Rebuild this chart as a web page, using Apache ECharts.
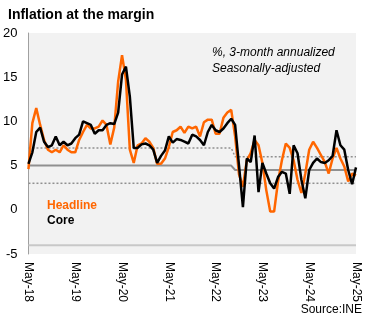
<!DOCTYPE html>
<html><head><meta charset="utf-8">
<script src="https://cdn.jsdelivr.net/npm/echarts@6/dist/echarts.min.js"></script>
<style>html,body{margin:0;padding:0;background:#fff}#c{width:376px;height:322px}</style>
</head><body><div id="c"></div>
<script>
var monthNames = ['Jan','Feb','Mar','Apr','May','Jun','Jul','Aug','Sep','Oct','Nov','Dec'];
var startMonth = 4, startYear = 2018, monthCount = 85;
var categories = [];
for (var k = 0; k < monthCount; k++) {
  var m = (startMonth + k) % 12, y = startYear + Math.floor((startMonth + k) / 12);
  categories.push(monthNames[m] + '-' + String(y).slice(2));
}
var headline = [4.6,9.8,11.5,9.6,7.9,6.8,6.5,6.8,6.5,7.3,6.8,6.5,6.5,7.9,8.8,9.6,9.2,9.2,9.4,10.1,9.6,7.4,9.3,14.5,17.5,14.7,6.8,5.3,7.3,7.5,8.1,7.7,7.0,5.2,5.2,5.8,7.1,8.8,9.0,9.4,8.7,9.4,9.2,9.4,8.3,9.9,10.2,10.2,8.6,8.6,10.4,11.0,11.3,8.3,4.0,2.6,5.6,6.4,7.9,7.3,5.3,2.2,-0.2,-0.2,3.2,5.6,7.5,7.0,5.6,3.4,1.9,4.1,6.8,7.7,7.0,6.2,5.4,4.1,5.8,7.0,5.8,4.9,3.2,4.1,3.9];
var core = [5.2,6.5,8.8,9.3,7.7,7.1,7.3,8.3,7.3,7.7,7.3,7.5,8.1,8.5,10.0,9.8,9.6,8.6,9.0,9.0,9.6,9.8,9.7,11.0,15.3,16.2,12.8,7.0,7.0,7.4,7.5,7.3,6.8,5.3,6.1,6.7,8.3,7.6,8.0,7.9,7.7,7.5,8.5,8.3,7.9,7.3,8.8,9.6,9.0,8.8,9.2,9.8,10.3,9.6,5.0,0.3,5.8,5.4,8.4,2.0,5.3,4.1,3.0,2.4,3.7,4.3,4.1,1.8,7.3,6.4,3.4,1.3,4.5,5.3,5.8,5.4,5.3,5.6,6.1,9.0,7.3,6.8,4.5,2.9,4.8];
var refMean = [['May-18',5],['Sep-22',5],['Oct-22',4.5],['May-25',4.5]];
var refUpper = [['May-18',7],['Sep-22',7],['Oct-22',6],['May-25',6]];
var refLower = [['May-18',3],['May-25',3]];
var refFloor = [['May-18',-4],['May-25',-4]];
var yTicks = [-5,0,5,10,15,20];

var FF = "'Liberation Sans', Arial, sans-serif";
var chart = echarts.init(document.getElementById('c'));
chart.setOption({
  animation: false,
  backgroundColor: '#fff',
  title: { text: 'Inflation at the margin', left: 3, top: 3,
    textStyle: { fontFamily: FF, fontSize: 14, fontWeight: 'bold', color: '#000' } },
  grid: { left: 28, right: 20, top: 33, bottom: 68, show: true, backgroundColor: '#f2f2f2', borderWidth: 0 },
  xAxis: { type: 'category', data: categories, boundaryGap: false,
    axisLine: { show: false }, axisTick: { show: false }, splitLine: { show: false },
    axisLabel: { interval: function (i) { return i % 12 === 0; }, rotate: -90, margin: 8,
      fontFamily: FF, fontSize: 12, color: '#000' } },
  yAxis: { type: 'value', min: yTicks[0], max: yTicks[yTicks.length - 1], interval: 5,
    axisLine: { show: true, lineStyle: { color: '#a0a0a0', width: 1 } },
    axisTick: { show: false }, splitLine: { show: false },
    axisLabel: { margin: 11, fontFamily: FF, fontSize: 13, color: '#000',
      padding: [2, 0, 0, 0] } },
  series: [
    { type: 'line', data: refFloor, symbol: 'none', lineStyle: { color: '#c8c8c8', width: 2 }, z: 1 },
    { type: 'line', data: refUpper, symbol: 'none', lineStyle: { color: '#909090', width: 1.5, type: [2, 2] }, z: 1 },
    { type: 'line', data: refLower, symbol: 'none', lineStyle: { color: '#909090', width: 1.5, type: [2, 2] }, z: 1 },
    { type: 'line', data: refMean, symbol: 'none', lineStyle: { color: '#909090', width: 2 }, z: 1 },
    { name: 'Headline', type: 'line', data: headline, symbol: 'none', lineStyle: { color: '#ff6600', width: 2.5 }, z: 2 },
    { name: 'Core', type: 'line', data: core, symbol: 'none', lineStyle: { color: '#000000', width: 2.5 }, z: 3 }
  ],
  graphic: [
    { type: 'text', left: 212, top: 47, style: { text: '%, 3-month annualized', font: 'italic 12px ' + FF, fill: '#000' } },
    { type: 'text', left: 212, top: 63, style: { text: 'Seasonally-adjusted', font: 'italic 12px ' + FF, fill: '#000' } },
    { type: 'text', left: 47, top: 200, style: { text: 'Headline', font: 'bold 12px ' + FF, fill: '#ff6600' } },
    { type: 'text', left: 47, top: 215, style: { text: 'Core', font: 'bold 12px ' + FF, fill: '#000' } },
    { type: 'text', right: 14, top: 304, style: { text: 'Source:INE', font: '12px ' + FF, fill: '#000' } }
  ]
});
</script></body></html>
